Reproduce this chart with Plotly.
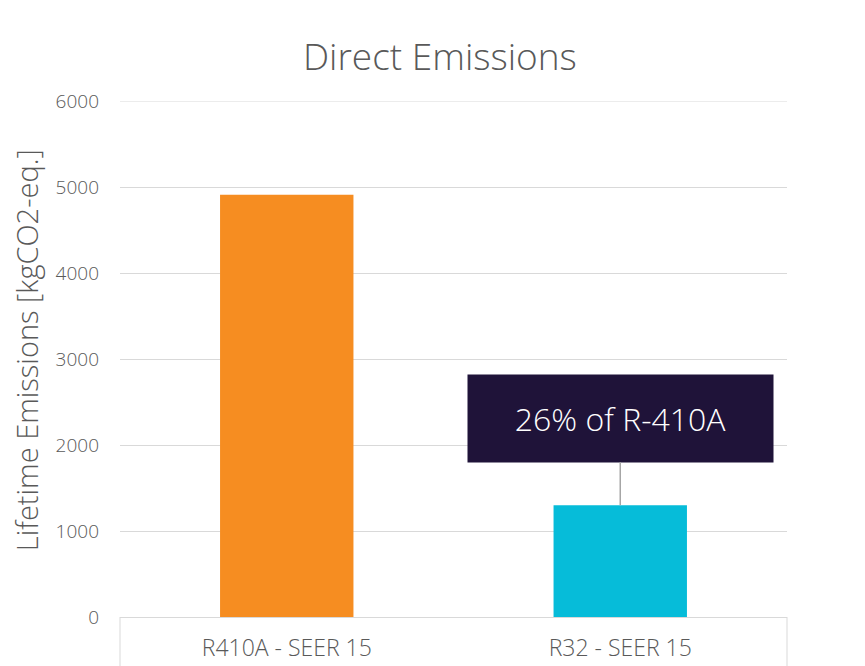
import plotly.graph_objects as go

categories = ["R410A - SEER 15", "R32 - SEER 15"]
values = [4910, 1300]
bar_colors = ["#F68D21", "#06BCD9"]
y_ticks = [0, 1000, 2000, 3000, 4000, 5000, 6000]
title_text = "Direct Emissions"
y_title = "Lifetime Emissions [kgCO2-eq.]"
note_text = "26% of R-410A"

FONT = "Open Sans"
GRAY = "#595959"
GRID = "#D9D9D9"

fig = go.Figure(go.Bar(
    x=categories, y=values, marker=dict(color=bar_colors, line=dict(width=0)),
    width=0.4,
))

fig.update_layout(
    width=857, height=658,
    margin=dict(l=112, r=78, t=93, b=49, autoexpand=False),
    plot_bgcolor="white", paper_bgcolor="white",
    showlegend=False,
    font=dict(family=FONT, color=GRAY, size=18, weight=300),
    title=dict(text=title_text, x=0.504, xanchor="center", y=0.926, yanchor="middle",
               font=dict(family=FONT, size=37, color=GRAY, weight=300)),
    xaxis=dict(showgrid=False, showline=True, linecolor=GRID, linewidth=1, automargin=False,
               ticks="", tickfont=dict(size=23, color=GRAY, weight=300), ticklabelstandoff=10),
    yaxis=dict(range=[0, 6000], tickvals=y_ticks, showgrid=True, gridcolor=GRID, gridwidth=1,
               zeroline=False, showline=False, ticks="", ticklabelstandoff=20, automargin=False,
               tickfont=dict(size=19, color=GRAY, weight=300)),
)

# y-axis title as rotated text
fig.add_annotation(
    xref="paper", yref="paper", x=(26 - 120) / 667, y=0.517, xanchor="center", yanchor="middle",
    text=y_title, textangle=-90, showarrow=False,
    font=dict(family=FONT, size=29, color=GRAY, weight=300),
)

# top gridline at 6000 (range edge)
fig.add_shape(type="line", xref="paper", yref="y", x0=0, x1=1, y0=6000, y1=6000,
              line=dict(color=GRID, width=1), layer="below")

# box-like separators below x-axis
for xp in (0, 1):
    fig.add_shape(type="line", xref="paper", yref="paper", x0=xp, x1=xp, y0=0, y1=-0.2,
                  line=dict(color=GRID, width=1))

fig.add_annotation(
    x=categories[1], y=values[1], text=note_text, showarrow=True, arrowhead=0,
    arrowcolor="#A6A6A6", arrowwidth=1.5, ax=0, ay=-87, standoff=0,
    bgcolor="#1F1339", borderpad=0, width=305, height=87,
    font=dict(family=FONT, size=32, color="white", weight=300),
)

fig.write_html("out.html")
